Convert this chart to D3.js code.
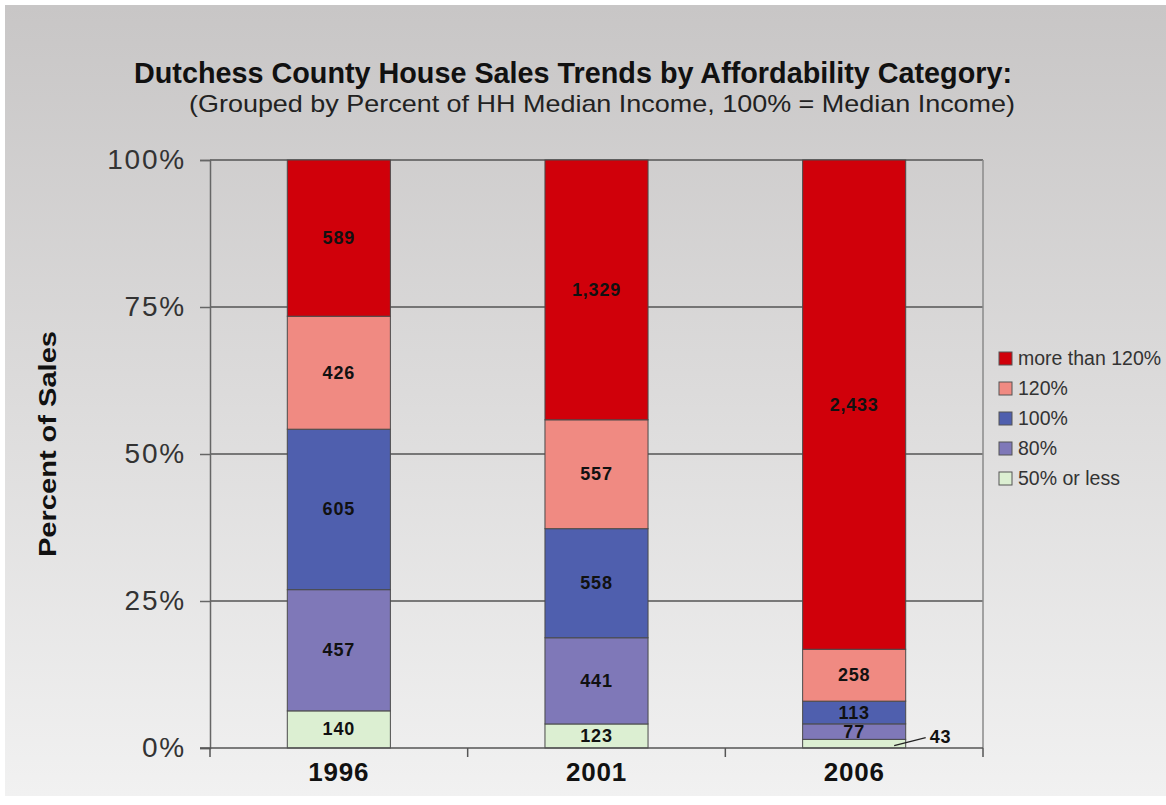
<!DOCTYPE html>
<html>
<head>
<meta charset="utf-8">
<script src="https://cdn.jsdelivr.net/npm/d3@7"></script>
<style>
  html, body { margin: 0; padding: 0; background: #fff; }
</style>
</head>
<body>
<div id="vis"></div>
<script>
/* data */
let years = ["1996", "2001", "2006"];
let categories = ["50% or less", "80%", "100%", "120%", "more than 120%"];
let sales50 = [140, 123, 43];
let sales80 = [457, 441, 77];
let sales100 = [605, 558, 113];
let sales120 = [426, 557, 258];
let salesOver = [589, 1329, 2433];
let yTicks = [0, 0.25, 0.5, 0.75, 1];
let colors = ["#dcefd2", "#7f78b8", "#4f5fae", "#f08a82", "#d0000a"];

/* geometry */
let width = 1166, height = 805;
let boundsX = [210, 983];
let boundsY = [160, 748];
let font = "'Liberation Sans', Arial, sans-serif";

let rows = years.map((y, i) => ({
  year: y,
  "50% or less": sales50[i],
  "80%": sales80[i],
  "100%": sales100[i],
  "120%": sales120[i],
  "more than 120%": salesOver[i],
}));

let x = d3.scaleBand().domain(years).range(boundsX)
  .paddingInner(0.6).paddingOuter(0.3);
let y = d3.scaleLinear().domain([0, 1]).range([boundsY[1], boundsY[0]]);
let color = d3.scaleOrdinal().domain(categories).range(colors);

let series = d3.stack().keys(categories).offset(d3.stackOffsetExpand)(rows);

let svg = d3.select("#vis").append("svg")
  .attr("width", width).attr("height", height);

/* background gradient */
let grad = svg.append("defs").append("linearGradient")
  .attr("id", "bg").attr("x1", 0).attr("y1", 0).attr("x2", 0).attr("y2", 1);
grad.append("stop").attr("offset", "0%").attr("stop-color", "#c8c6c6");
grad.append("stop").attr("offset", "100%").attr("stop-color", "#f1f1f1");
svg.append("rect").attr("width", width).attr("height", height).attr("fill", "#fff");
svg.append("rect").attr("x", 5).attr("y", 5).attr("width", width - 5).attr("height", 791)
  .attr("fill", "url(#bg)");

/* titles */
svg.append("text")
  .attr("x", 573).attr("y", 83)
  .attr("text-anchor", "middle")
  .attr("font-family", "'Liberation Sans Narrow', 'Liberation Sans', sans-serif")
  .attr("font-weight", "bold").attr("font-size", 30).attr("fill", "#111")
  .attr("textLength", 878).attr("lengthAdjust", "spacingAndGlyphs")
  .text("Dutchess County House Sales Trends by Affordability Category:");
svg.append("text")
  .attr("x", 602).attr("y", 112)
  .attr("text-anchor", "middle")
  .attr("font-family", "'Liberation Sans Narrow', 'Liberation Sans', sans-serif")
  .attr("font-size", 24).attr("fill", "#222")
  .attr("textLength", 826).attr("lengthAdjust", "spacingAndGlyphs")
  .text("(Grouped by Percent of HH Median Income, 100% = Median Income)");

/* gridlines */
svg.append("g").selectAll("line")
  .data(yTicks.filter(t => t > 0))
  .join("line")
    .attr("x1", boundsX[0]).attr("x2", boundsX[1])
    .attr("y1", d => y(d)).attr("y2", d => y(d))
    .attr("stroke", "#555").attr("stroke-width", 1.5);

/* right border */
svg.append("line")
  .attr("x1", boundsX[1]).attr("x2", boundsX[1])
  .attr("y1", boundsY[0]).attr("y2", boundsY[1])
  .attr("stroke", "#8a8a8a").attr("stroke-width", 1.5);

/* bars */
let layer = svg.append("g").selectAll("g")
  .data(series)
  .join("g")
    .attr("fill", d => color(d.key));
layer.selectAll("rect")
  .data(d => d)
  .join("rect")
    .attr("x", d => x(d.data.year))
    .attr("width", x.bandwidth())
    .attr("y", d => y(d[1]))
    .attr("height", d => y(d[0]) - y(d[1]))
    .attr("stroke", "#4a4a4a").attr("stroke-width", 1);

/* value labels */
let fmt = d3.format(",");
let lbls = svg.append("g")
  .attr("font-family", font)
  .attr("font-weight", "bold").attr("font-size", 18).attr("fill", "#111")
  .attr("letter-spacing", 0.8)
  .attr("text-anchor", "middle");
series.forEach(s => {
  s.forEach(d => {
    let v = d.data[s.key];
    let cx = x(d.data.year) + x.bandwidth() / 2;
    let cy = (y(d[0]) + y(d[1])) / 2;
    let small = y(d[0]) - y(d[1]) < 12;
    if (small) {
      /* outside label with a leader line */
      let lx = x(d.data.year) + x.bandwidth() + 24;
      svg.append("line")
        .attr("x1", cx + 40).attr("y1", cy + 2)
        .attr("x2", lx - 4).attr("y2", cy - 6)
        .attr("stroke", "#222").attr("stroke-width", 1.2);
      lbls.append("text")
        .attr("x", lx).attr("y", cy - 1)
        .attr("text-anchor", "start")
        .text(fmt(v));
    } else {
      lbls.append("text")
        .attr("x", cx).attr("y", cy + 6)
        .text(fmt(v));
    }
  });
});

/* y axis */
let yAxis = svg.append("g")
  .attr("transform", "translate(" + boundsX[0] + ",0)")
  .call(d3.axisLeft(y).tickValues(yTicks).tickFormat(d3.format(".0%")).tickSize(10).tickPadding(14));
yAxis.select(".domain").attr("stroke", "#666").attr("stroke-width", 1.5);
yAxis.selectAll(".tick line").attr("stroke", "#666").attr("stroke-width", 1.5);
yAxis.selectAll(".tick text")
  .attr("font-family", font)
  .attr("font-size", 28).attr("letter-spacing", 1.8).attr("fill", "#333");

/* x axis: ticks sit on category boundaries */
let xAxisG = svg.append("g");
let bounds = [boundsX[0]].concat(years.map(yr => x(yr) + x.bandwidth() / 2 + x.step() / 2));
xAxisG.append("line")
  .attr("x1", boundsX[0] - 10).attr("x2", boundsX[1])
  .attr("y1", boundsY[1]).attr("y2", boundsY[1])
  .attr("stroke", "#555").attr("stroke-width", 1.5);
xAxisG.selectAll(".xt")
  .data(bounds)
  .join("line")
    .attr("x1", d => d).attr("x2", d => d)
    .attr("y1", boundsY[1]).attr("y2", boundsY[1] + 9)
    .attr("stroke", "#555").attr("stroke-width", 1.5);
xAxisG.selectAll("text")
  .data(years)
  .join("text")
    .attr("x", d => x(d) + x.bandwidth() / 2)
    .attr("y", 781)
    .attr("text-anchor", "middle")
    .attr("font-family", font)
    .attr("font-weight", "bold").attr("font-size", 26).attr("letter-spacing", 0.8)
    .attr("fill", "#111")
    .text(d => d);

/* y axis title */
svg.append("text")
  .attr("transform", "translate(56,444) rotate(-90)")
  .attr("text-anchor", "middle")
  .attr("font-family", font)
  .attr("font-weight", "bold").attr("font-size", 23).attr("fill", "#111")
  .attr("textLength", 226).attr("lengthAdjust", "spacingAndGlyphs")
  .text("Percent of Sales");

/* legend */
let legend = svg.append("g")
  .attr("transform", "translate(999,350)");
let items = legend.selectAll("g")
  .data(categories.slice().reverse())
  .join("g")
    .attr("transform", (d, i) => "translate(0," + (i * 30) + ")");
items.append("rect")
  .attr("width", 13).attr("height", 13).attr("y", 2)
  .attr("fill", d => color(d))
  .attr("stroke", "#555").attr("stroke-width", 1);
items.append("text")
  .attr("x", 19).attr("y", 15)
  .attr("font-family", font)
  .attr("font-size", 19.5).attr("fill", "#333")
  .text(d => d);
</script>
</body>
</html>
